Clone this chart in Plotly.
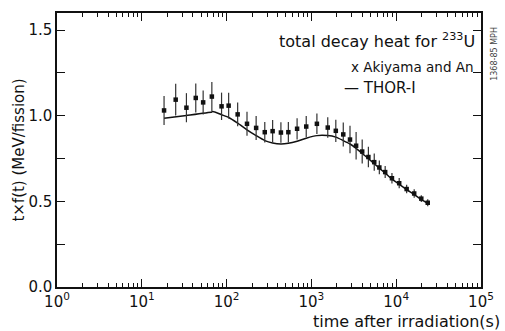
import plotly.graph_objects as go

# Experimental data (Akiyama and An)
t_exp = [18.3, 25.1, 33.6, 43.3, 52.9, 67, 87.2, 105.7, 135, 174, 223, 282, 349, 437,
         535, 678, 869, 1161, 1559, 1940, 2376, 2852, 3367, 3972, 4700, 5508, 6327,
         7413, 8910, 10850, 13280, 16300, 19770, 23550]
f_exp = [1.031, 1.094, 1.047, 1.104, 1.078, 1.112, 1.055, 1.059, 1.008, 0.953, 0.929,
         0.904, 0.910, 0.902, 0.904, 0.924, 0.937, 0.953, 0.931, 0.912, 0.891, 0.861,
         0.825, 0.791, 0.759, 0.729, 0.698, 0.671, 0.635, 0.606, 0.572, 0.546, 0.516, 0.492]
err_exp = [0.085, 0.093, 0.085, 0.085, 0.07, 0.085, 0.08, 0.075, 0.07, 0.07, 0.07,
           0.06, 0.065, 0.06, 0.06, 0.062, 0.062, 0.06, 0.06, 0.065, 0.07, 0.08,
           0.08, 0.07, 0.06, 0.05, 0.04, 0.035, 0.03, 0.03, 0.025, 0.025, 0.02, 0.02]

# THOR-I calculation
t_calc = [18.3, 33.6, 67, 69, 87, 106, 135, 174, 223, 282, 349, 437, 535, 678, 869,
          1161, 1559, 1940, 2376, 2852, 3367, 3972, 4700, 5508, 6327, 7413, 8910,
          10850, 13280, 16300, 19770, 24500]
f_calc = [0.986, 1.002, 1.022, 1.025, 1.006, 0.990, 0.957, 0.918, 0.884, 0.855, 0.841,
          0.835, 0.839, 0.851, 0.869, 0.884, 0.884, 0.875, 0.855, 0.835, 0.810, 0.780,
          0.750, 0.720, 0.693, 0.665, 0.630, 0.600, 0.568, 0.540, 0.510, 0.484]

x_exps = [0, 1, 2, 3, 4, 5]
x_tickvals = [10 ** e for e in x_exps]
x_ticktext = ["10<sup>%d</sup>" % e for e in x_exps]
x_minor = [k * 10 ** e for e in range(0, 5) for k in range(2, 10)]
y_tickvals = [0.0, 0.5, 1.0, 1.5]
y_ticktext = ["0.0", "0.5", "1.0", "1.5"]
y_minor = [0.25, 0.75, 1.25]

FONT = "DejaVu Sans, Liberation Sans, sans-serif"

fig = go.Figure()
fig.add_trace(go.Scatter(
    x=t_calc, y=f_calc, mode="lines",
    line=dict(color="#111", width=1.5, shape="spline", smoothing=0.6),
    showlegend=False))
fig.add_trace(go.Scatter(
    x=t_exp, y=f_exp, mode="markers",
    marker=dict(symbol="square", size=4.5, color="#111"),
    error_y=dict(type="data", array=err_exp, visible=True, color="#333",
                 thickness=1.2, width=0),
    showlegend=False))

fig.update_layout(
    width=505, height=331,
    margin=dict(l=57, r=11, t=13, b=44),
    paper_bgcolor="white", plot_bgcolor="white",
    font=dict(family=FONT, color="#111", size=15),
    xaxis=dict(
        type="log", range=[0, 5],
        tickmode="array", tickvals=x_tickvals, ticktext=x_ticktext,
        ticks="inside", ticklen=8, tickwidth=1.2, tickcolor="#111",
        showline=True, linecolor="#111", linewidth=1.5, mirror="ticks",
        showgrid=False, zeroline=False,
        tickfont=dict(size=15),
        minor=dict(tickmode="array", tickvals=x_minor, ticks="inside",
                   ticklen=4, tickwidth=1, tickcolor="#111", showgrid=False),
    ),
    yaxis=dict(
        range=[0, 1.6],
        tickmode="array", tickvals=y_tickvals, ticktext=y_ticktext,
        ticks="inside", ticklen=8, tickwidth=1.2, tickcolor="#111",
        showline=True, linecolor="#111", linewidth=1.5, mirror="ticks",
        showgrid=False, zeroline=False,
        tickfont=dict(size=15),
        minor=dict(tickmode="array", tickvals=y_minor, ticks="inside",
                   ticklen=8, tickwidth=1, tickcolor="#111", showgrid=False),
        title=dict(text="t\u00d7f(t) (MeV/fission)", font=dict(size=15), standoff=0),
    ),
    annotations=[
        dict(text="time after irradiation(s)", xref="paper", yref="paper",
             x=1.05, y=-0.125, xanchor="right", yanchor="middle",
             showarrow=False, font=dict(size=16)),
        dict(text="total decay heat for <sup>233</sup>U", xref="paper", yref="paper",
             x=0.52, y=0.90, xanchor="left", yanchor="middle",
             showarrow=False, font=dict(size=16)),
        dict(text="x Akiyama and An", xref="paper", yref="paper",
             x=0.688, y=0.803, xanchor="left", yanchor="middle",
             showarrow=False, font=dict(size=13.5)),
        dict(text="\u2014 THOR-I", xref="paper", yref="paper",
             x=0.672, y=0.728, xanchor="left", yanchor="middle",
             showarrow=False, font=dict(size=15)),
        dict(text="1368-85 MPH", xref="paper", yref="paper",
             x=1.03, y=0.85, xanchor="center", yanchor="middle", textangle=-90,
             showarrow=False, font=dict(size=8, color="#444")),
    ],
)

fig.write_html("out.html")
